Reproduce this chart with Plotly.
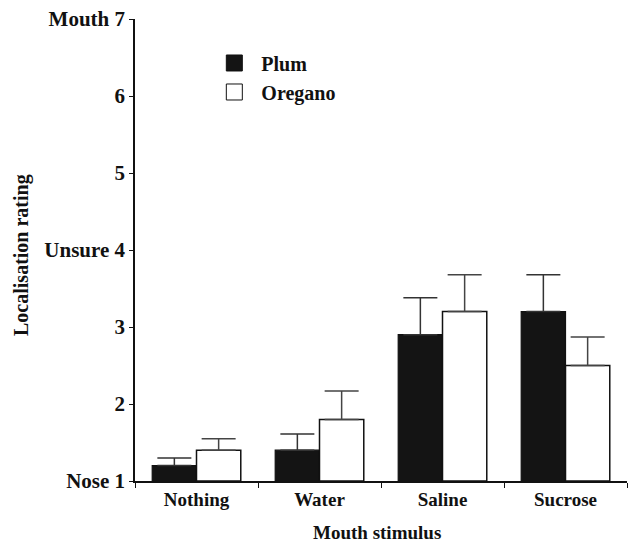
import plotly.graph_objects as go

categories = ["Nothing", "Water", "Saline", "Sucrose"]
plum = [1.2, 1.4, 2.9, 3.2]
plum_err = [0.1, 0.21, 0.48, 0.48]
oregano = [1.4, 1.8, 3.2, 2.5]
oregano_err = [0.15, 0.37, 0.48, 0.37]
baseline = 1
ytick_vals = [1, 2, 3, 4, 5, 6, 7]
ytick_text = ["Nose 1", "2", "3", "Unsure 4", "5", "6", "Mouth 7"]

FONT = "Liberation Serif, Times New Roman, serif"

fig = go.Figure()
fig.add_trace(go.Bar(
    x=categories, y=[v - baseline for v in plum], base=baseline, name="Plum",
    marker=dict(color="#141414", line=dict(color="#111111", width=1.2)),
    error_y=dict(type="data", array=plum_err, arrayminus=[0] * 4, symmetric=False,
                 color="#333333", thickness=1.5, width=17),
    showlegend=False,
))
fig.add_trace(go.Bar(
    x=categories, y=[v - baseline for v in oregano], base=baseline, name="Oregano",
    marker=dict(color="white", line=dict(color="#111111", width=1.5)),
    error_y=dict(type="data", array=oregano_err, arrayminus=[0] * 4, symmetric=False,
                 color="#444444", thickness=1.5, width=17),
    showlegend=False,
))
# legend entries
fig.add_trace(go.Scatter(x=[None], y=[None], mode="markers", name="Plum",
                         marker=dict(symbol="square", size=18, color="#141414",
                                     line=dict(color="#111111", width=1))))
fig.add_trace(go.Scatter(x=[None], y=[None], mode="markers", name="Oregano",
                         marker=dict(symbol="square", size=18, color="white",
                                     line=dict(color="#111111", width=1))))

fig.update_layout(
    width=639, height=543,
    margin=dict(l=127, r=20, t=11, b=70),
    paper_bgcolor="white", plot_bgcolor="white",
    font=dict(family=FONT, size=19, color="#111111", weight="bold"),
    barmode="group", bargap=0.28, bargroupgap=0,
    showlegend=True,
    legend=dict(x=0.147, y=0.947, xanchor="left", yanchor="top",
                bgcolor="rgba(0,0,0,0)", font=dict(size=20, family=FONT, weight="bold"),
                tracegroupgap=0, itemwidth=44),
    annotations=[
        dict(text="Localisation rating", xref="paper", yref="paper", x=-0.231, y=0.49,
             xanchor="center", yanchor="middle", textangle=-90, showarrow=False,
             font=dict(size=20, family=FONT, weight="bold")),
        dict(text="Mouth stimulus", xref="paper", yref="paper", x=0.492, y=-0.112,
             xanchor="center", yanchor="middle", showarrow=False,
             font=dict(size=19, family=FONT, weight="bold")),
    ],
)
fig.update_xaxes(
    automargin=False,
    showline=True, linecolor="#111111", linewidth=1.5,
    ticks="outside", tickson="boundaries", ticklen=5, tickcolor="#111111",
    showgrid=False, zeroline=False,
    tickfont=dict(size=19, family=FONT, weight="bold"),
)
fig.update_yaxes(
    automargin=False, ticklabeloverflow="allow",
    range=[1, 7], showline=True, linecolor="#111111", linewidth=1.5,
    ticks="outside", ticklen=4, tickcolor="#111111",
    tickvals=ytick_vals, ticktext=ytick_text,
    showgrid=False, zeroline=False,
    tickfont=dict(size=21, family=FONT, weight="bold"),
)
fig.write_html("out.html")
